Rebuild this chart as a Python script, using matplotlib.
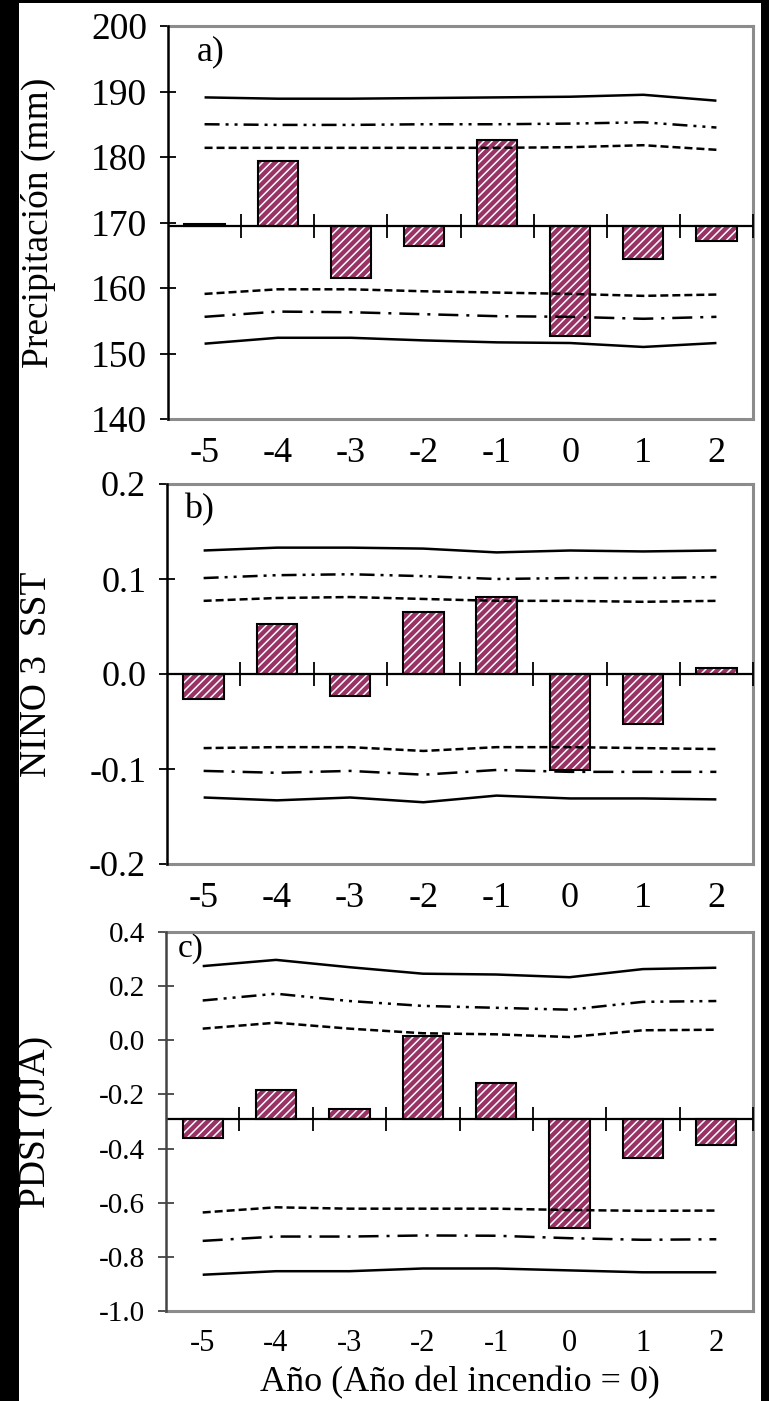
import numpy as np
import matplotlib
matplotlib.use("Agg")
import matplotlib.pyplot as plt
from matplotlib.patches import Rectangle
from matplotlib.ticker import FormatStrFormatter

plt.rcParams['font.family'] = ['Liberation Serif', 'DejaVu Serif']
plt.rcParams['axes.unicode_minus'] = False
plt.rcParams['hatch.linewidth'] = 1.1

years = [-5, -4, -3, -2, -1, 0, 1, 2]
year_labels = ['-5', '-4', '-3', '-2', '-1', '0', '1', '2']

# Panel a: precipitation
precip_base = 169.4
precip_bars = [169.8, 179.4, 161.5, 166.4, 182.6, 152.7, 164.5, 167.1]
precip_up99 = [189.1, 188.9, 188.9, 189.0, 189.1, 189.2, 189.5, 188.6]
precip_up95 = [185.0, 184.9, 184.9, 185.0, 185.0, 185.1, 185.3, 184.5]
precip_up90 = [181.4, 181.4, 181.4, 181.4, 181.4, 181.5, 181.8, 181.1]
precip_lo90 = [159.1, 159.8, 159.8, 159.5, 159.3, 159.1, 158.8, 159.0]
precip_lo95 = [155.6, 156.4, 156.3, 156.0, 155.7, 155.6, 155.3, 155.6]
precip_lo99 = [151.5, 152.4, 152.4, 152.0, 151.7, 151.6, 151.0, 151.6]

# Panel b: NINO 3 SST
sst_base = 0.0
sst_bars = [-0.026, 0.053, -0.023, 0.065, 0.081, -0.101, -0.053, 0.006]
sst_up99 = [0.130, 0.133, 0.133, 0.132, 0.128, 0.130, 0.129, 0.130]
sst_up95 = [0.101, 0.104, 0.105, 0.103, 0.100, 0.101, 0.101, 0.102]
sst_up90 = [0.077, 0.080, 0.081, 0.079, 0.077, 0.077, 0.076, 0.077]
sst_lo90 = [-0.078, -0.077, -0.077, -0.081, -0.077, -0.077, -0.078, -0.079]
sst_lo95 = [-0.102, -0.104, -0.102, -0.106, -0.101, -0.103, -0.103, -0.103]
sst_lo99 = [-0.130, -0.133, -0.130, -0.135, -0.128, -0.131, -0.131, -0.132]

# Panel c: PDSI (JJA)
pdsi_base = -0.29
pdsi_bars = [-0.360, -0.184, -0.253, 0.014, -0.158, -0.695, -0.434, -0.386]
pdsi_up99 = [0.274, 0.297, 0.270, 0.246, 0.243, 0.233, 0.263, 0.268]
pdsi_up95 = [0.147, 0.172, 0.145, 0.127, 0.120, 0.113, 0.142, 0.145]
pdsi_up90 = [0.043, 0.065, 0.043, 0.026, 0.022, 0.012, 0.037, 0.039]
pdsi_lo90 = [-0.636, -0.617, -0.622, -0.622, -0.622, -0.627, -0.630, -0.629]
pdsi_lo95 = [-0.741, -0.725, -0.725, -0.721, -0.722, -0.731, -0.737, -0.735]
pdsi_lo99 = [-0.866, -0.853, -0.853, -0.843, -0.843, -0.850, -0.857, -0.857]

W, H = 769, 1401
fig = plt.figure(figsize=(W / 100, H / 100), dpi=100, facecolor='black')
fig.add_artist(Rectangle((19 / W, 0), (761 - 19) / W, 1 - 3 / H,
                         transform=fig.transFigure, facecolor='white',
                         edgecolor='none', zorder=-10))

BAR_COLOR = '#993366'
LW = 1.8
ls_dash = (0, (3.2, 1.6))
ls_dashdotdot = (0, (6.0, 2.4, 1.2, 2.4, 1.2, 2.4))
ls_dashdot = (0, (8.0, 3.2, 1.2, 3.2))

panels = [
    dict(rect=[168 / W, 1 - 419 / H, 585 / W, 393 / H], base=precip_base, bars=precip_bars,
         lines=[precip_up99, precip_up95, precip_up90, precip_lo90, precip_lo95, precip_lo99],
         ylim=(140, 200), yticks=[140, 150, 160, 170, 180, 190, 200], fmt='%d',
         ylabel='Precipitación (mm)', tag='a)', tagpos=(0.05, 0.934),
         ytsize=27, xtsize=26, tagsize=26, spinecol='black'),
    dict(rect=[167 / W, 1 - 864 / H, 586 / W, 380 / H], base=sst_base, bars=sst_bars,
         lines=[sst_up99, sst_up95, sst_up90, sst_lo90, sst_lo95, sst_lo99],
         ylim=(-0.2, 0.2), yticks=[-0.2, -0.1, 0.0, 0.1, 0.2], fmt='%.1f',
         ylabel='NINO 3  SST', tag='b)', tagpos=(0.029, 0.932),
         ytsize=26, xtsize=26, tagsize=26, spinecol='black'),
    dict(rect=[166 / W, 1 - 1311 / H, 587 / W, 379 / H], base=pdsi_base, bars=pdsi_bars,
         lines=[pdsi_up99, pdsi_up95, pdsi_up90, pdsi_lo90, pdsi_lo95, pdsi_lo99],
         ylim=(-1.0, 0.4), yticks=[-1.0, -0.8, -0.6, -0.4, -0.2, 0.0, 0.2, 0.4], fmt='%.1f',
         ylabel='PDSI (JJA)', tag='c)', tagpos=(0.02, 0.955),
         ytsize=21, xtsize=22, tagsize=24, spinecol='#444444'),
]

styles = ['-', ls_dashdotdot, ls_dash, ls_dash, ls_dashdot, '-']
x = np.array(years, dtype=float)

for i, p in enumerate(panels):
    ax = fig.add_axes(p['rect'])
    ax.set_facecolor('white')
    base = p['base']
    vals = np.array(p['bars']) - base
    ax.bar(x, vals, bottom=base, width=0.55, color=BAR_COLOR, hatch='////',
           edgecolor='white', linewidth=0, zorder=2)
    ax.bar(x, vals, bottom=base, width=0.55, fill=False,
           edgecolor='black', linewidth=1.5, zorder=3)
    for ys, st in zip(p['lines'], styles):
        ax.plot(x, ys, color='black', lw=LW, linestyle=st, zorder=4,
                solid_capstyle='butt', dash_capstyle='butt')
    # baseline axis with category-boundary ticks
    ax.axhline(base, color='black', lw=1.6, zorder=5)
    bounds = x[1:] - 0.5
    bounds = np.append(bounds, x[-1] + 0.5)
    ax.plot(bounds, [base] * len(bounds), linestyle='none', marker='|',
            markersize=17, markeredgewidth=1.3, color='black', zorder=5,
            clip_on=False)

    ax.set_xlim(x[0] - 0.5, x[-1] + 0.5)
    ax.set_ylim(*p['ylim'])
    ax.set_yticks(p['yticks'])
    ax.yaxis.set_major_formatter(FormatStrFormatter(p['fmt']))
    ax.set_xticks(x)
    ax.set_xticklabels(year_labels)
    ax.tick_params(axis='x', length=0, pad=13, labelsize=p['xtsize'])
    ax.tick_params(axis='y', direction='inout', length=12, width=1.3,
                   color=p['spinecol'], pad=9, labelsize=p['ytsize'])

    for s in ['top', 'right', 'bottom']:
        ax.spines[s].set_color('#8c8c8c')
        ax.spines[s].set_linewidth(2.2)
    ax.spines['left'].set_color(p['spinecol'])
    ax.spines['left'].set_linewidth(1.8)
    ax.spines['left'].set_zorder(6)

    ax.set_ylabel(p['ylabel'], fontsize=27)
    ax.yaxis.label.set_verticalalignment('center')
    ax.yaxis.set_label_coords(-0.222, 0.5)
    ax.text(p['tagpos'][0], p['tagpos'][1], p['tag'], transform=ax.transAxes,
            ha='left', va='center', fontsize=p['tagsize'], zorder=7)
    if i == 2:
        ax.set_xlabel('Año (Año del incendio = 0)', fontsize=26, labelpad=6)

fig.savefig('out.png', dpi=100, facecolor=fig.get_facecolor())
